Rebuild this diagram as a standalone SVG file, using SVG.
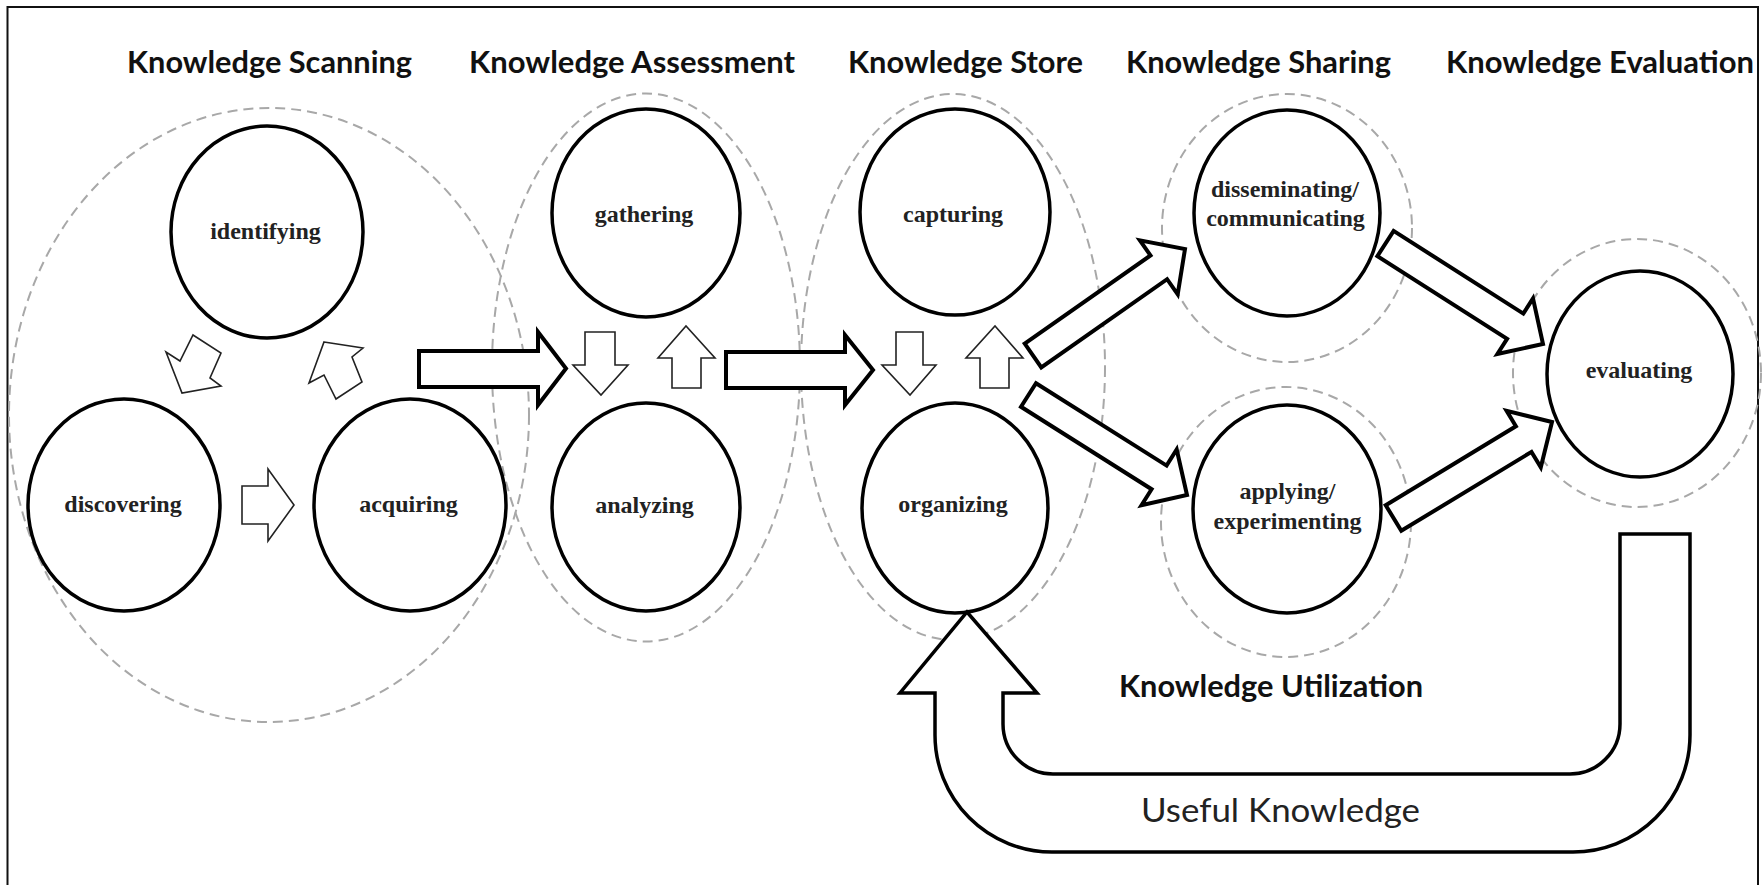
<svg xmlns="http://www.w3.org/2000/svg" width="1762" height="885" viewBox="0 0 1762 885">
  <style>
    .frame { fill: none; stroke: #111; stroke-width: 2; }
    .group { fill: none; stroke: #a8a8a8; stroke-width: 2; stroke-dasharray: 10 6; }
    .node { fill: none; stroke: #000; stroke-width: 3.5; }
    .label { font-family: "Liberation Serif", "Times New Roman", serif; font-weight: bold; font-size: 24px; fill: #222; text-anchor: middle; }
    .head { font-family: Lato, "Open Sans", "Liberation Sans", sans-serif; font-weight: bold; font-size: 31px; fill: #111; text-anchor: middle; }
    .loop-label { font-family: Lato, "Open Sans", "Liberation Sans", sans-serif; font-weight: normal; font-size: 33px; fill: #222; text-anchor: middle; }
    .thin { fill: #fff; stroke: #222; stroke-width: 1.6; stroke-linejoin: miter; }
    .bold { fill: #fff; stroke: #000; stroke-width: 4; stroke-linejoin: miter; }
    .loop { fill: #fff; stroke: #000; stroke-width: 3.5; stroke-linejoin: miter; }
  </style>

  <rect x="0" y="0" width="1762" height="885" fill="#fff"/>
  <path class="frame" d="M7.5,900 V7 H1758 V900"/>

  <!-- stage headings -->
  <g id="headings">
    <text class="head" x="269.5" y="73" textLength="285" lengthAdjust="spacingAndGlyphs">Knowledge Scanning</text>
    <text class="head" x="632" y="73" textLength="326" lengthAdjust="spacingAndGlyphs">Knowledge Assessment</text>
    <text class="head" x="965.5" y="73" textLength="235" lengthAdjust="spacingAndGlyphs">Knowledge Store</text>
    <text class="head" x="1258.5" y="73" textLength="265" lengthAdjust="spacingAndGlyphs">Knowledge Sharing</text>
    <text class="head" x="1600" y="73" textLength="308" lengthAdjust="spacingAndGlyphs">Knowledge Evaluation</text>
    <text class="head" x="1271" y="697" textLength="304" lengthAdjust="spacingAndGlyphs">Knowledge Utilization</text>
  </g>

  <!-- dashed stage boundaries -->
  <g id="stages">
    <ellipse id="stage-scanning" class="group" cx="269" cy="415" rx="260" ry="307"/>
    <ellipse id="stage-assessment" class="group" cx="646" cy="367.5" rx="154" ry="274"/>
    <ellipse id="stage-store" class="group" cx="953" cy="367" rx="152" ry="273"/>
    <ellipse id="stage-sharing-top" class="group" cx="1287" cy="228" rx="125" ry="134"/>
    <ellipse id="stage-sharing-bottom" class="group" cx="1286" cy="522" rx="125" ry="135"/>
    <ellipse id="stage-evaluation" class="group" cx="1637" cy="373" rx="124" ry="134"/>
  </g>

  <!-- activity nodes -->
  <g id="identifying">
    <ellipse class="node" cx="267" cy="232" rx="96" ry="106"/>
    <text class="label" x="265.5" y="239">identifying</text>
  </g>
  <g id="discovering">
    <ellipse class="node" cx="124" cy="505" rx="96" ry="106"/>
    <text class="label" x="123" y="512">discovering</text>
  </g>
  <g id="acquiring">
    <ellipse class="node" cx="410" cy="505" rx="96" ry="106"/>
    <text class="label" x="408.5" y="512">acquiring</text>
  </g>
  <g id="gathering">
    <ellipse class="node" cx="646" cy="213" rx="94" ry="104"/>
    <text class="label" x="644" y="222">gathering</text>
  </g>
  <g id="analyzing">
    <ellipse class="node" cx="646" cy="507" rx="94" ry="104"/>
    <text class="label" x="644.5" y="513">analyzing</text>
  </g>
  <g id="capturing">
    <ellipse class="node" cx="955" cy="212" rx="95" ry="103"/>
    <text class="label" x="953" y="222">capturing</text>
  </g>
  <g id="organizing">
    <ellipse class="node" cx="955" cy="508" rx="93" ry="105"/>
    <text class="label" x="953" y="512">organizing</text>
  </g>
  <g id="disseminating">
    <ellipse class="node" cx="1287" cy="213" rx="93" ry="103"/>
    <text class="label" x="1285" y="197">disseminating/</text>
    <text class="label" x="1285.5" y="226">communicating</text>
  </g>
  <g id="applying">
    <ellipse class="node" cx="1287" cy="509" rx="94" ry="104"/>
    <text class="label" x="1287.5" y="499">applying/</text>
    <text class="label" x="1287.5" y="529">experimenting</text>
  </g>
  <g id="evaluating">
    <ellipse class="node" cx="1640" cy="374" rx="93" ry="103"/>
    <text class="label" x="1639" y="378">evaluating</text>
  </g>

  <!-- block-arrow connectors -->
  <g id="connectors">
    <!-- scanning cycle -->
    <polygon class="thin" points="193,335 221,353 210,378 221,386 182,393 166,352 180,361"/>
    <polygon class="thin" points="242,486 268,486 268,469 294,505 268,541 268,524 242,524"/>
    <polygon class="thin" points="324,342 363,348 352,357 362,382 336,399 324,375 309,383"/>

    <!-- assessment loop -->
    <polygon class="thin" points="585,332 615,332 615,365 628,365 601,395 573,365 585,365"/>
    <polygon class="thin" points="672,388 701,388 701,358 715,358 686,326 658,358 672,358"/>

    <!-- store loop -->
    <polygon class="thin" points="896,332 923,332 923,365 936,365 910,395 882,365 896,365"/>
    <polygon class="thin" points="980,388 1009,388 1009,358 1023,358 995,326 966,358 980,358"/>

    <!-- stage to stage -->
    <polygon class="bold" points="419,351 538,351 538,332 566,368.5 538,405 538,387 419,387"/>
    <polygon class="bold" points="726,352 845,352 845,335 873,370 845,405 845,388 726,388"/>

    <!-- store to sharing -->
    <polygon class="bold" points="1024.7,343.6 1150.5,255.4 1139.9,240.3 1185,249 1177.7,294.3 1167.1,279.2 1041.3,367.4"/>
    <polygon class="bold" points="1036,383.2 1166.6,465.6 1176.7,449.5 1187,495 1141.5,505.3 1151.6,489.2 1021,406.8"/>

    <!-- sharing to evaluation -->
    <polygon class="bold" points="1393.6,230.9 1523.3,313.6 1533,298.4 1543,344 1497.4,354 1507.1,338.8 1377.4,256.1"/>
    <polygon class="bold" points="1385.7,505.2 1515.9,426.3 1506.6,410.9 1552,422 1540.8,467.3 1531.5,451.9 1401.3,530.8"/>

    <!-- useful knowledge feedback loop -->
    <path class="loop" d="M1690,534 V735 A117,117 0 0 1 1573,852 H1052 A117,117 0 0 1 935,735 V693 H900 L967,612 L1037,693 H1003 V724 A50,50 0 0 0 1053,774 H1570 A50,50 0 0 0 1620,724 V534 Z"/>
    <text class="loop-label" x="1280.5" y="822" textLength="279" lengthAdjust="spacingAndGlyphs">Useful Knowledge</text>
  </g>
</svg>
